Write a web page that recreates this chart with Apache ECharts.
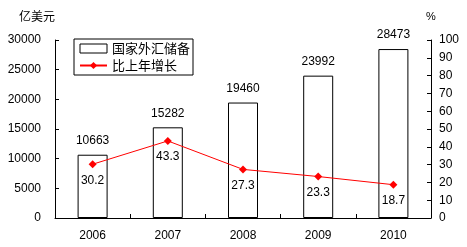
<!DOCTYPE html>
<html><head><meta charset="utf-8">
<script src="https://cdn.jsdelivr.net/npm/echarts@6/dist/echarts.min.js"></script>
<style>html,body{margin:0;padding:0;background:#fff}#c{width:467px;height:247px}</style>
</head><body><div id="c"></div>
<script>
const categories = ['2006','2007','2008','2009','2010'];
const reserves = [10663, 15282, 19460, 23992, 28473];
const growth = [30.2, 43.3, 27.3, 23.3, 18.7];
const leftTicks = [0, 5000, 10000, 15000, 20000, 25000, 30000];
const rightTicks = [0,10,20,30,40,50,60,70,80,90,100];

const font = 'Arial, "Liberation Sans", "Noto Sans CJK SC", sans-serif';
const txt = '#000';
const chart = echarts.init(document.getElementById('c'));
chart.setOption({
  animation: false,
  textStyle: {fontFamily: font, color: txt},
  grid: {left: 55, right: 36, top: 40, bottom: 29},
  legend: {
    left: 74, top: 39, orient: 'vertical', itemGap: 4,
    padding: [3, 3, 3, 5],
    borderColor: '#000', borderWidth: 1, borderRadius: 0,
    itemWidth: 27, itemHeight: 9,
    textStyle: {fontSize: 13, color: txt, fontFamily: '"Noto Sans CJK SC", sans-serif'},
    data: [
      {name: '国家外汇储备', icon: 'rect', itemStyle: {color: '#fff', borderColor: '#000', borderWidth: 1}},
      {name: '比上年增长'}
    ]
  },
  xAxis: {
    type: 'category', data: categories,
    axisLine: {lineStyle: {color: '#000', width: 1}},
    axisTick: {show: true, inside: true, length: 4, lineStyle: {color: '#000'}},
    axisLabel: {fontSize: 12, color: txt, margin: 12, fontFamily: font}
  },
  yAxis: [
    {
      type: 'value', min: leftTicks[0], max: leftTicks[leftTicks.length-1], interval: 5000,
      name: '亿美元', nameLocation: 'end', nameGap: 18,
      nameTextStyle: {fontSize: 12, color: txt, align: 'right', fontFamily: '"Noto Sans CJK SC", sans-serif'},
      axisLine: {show: true, lineStyle: {color: '#000'}},
      axisTick: {show: true, inside: true, length: 4, lineStyle: {color: '#000'}},
      axisLabel: {fontSize: 12, color: txt, margin: 14, fontFamily: font, formatter: v => String(v)},
      splitLine: {show: false}
    },
    {
      type: 'value', min: rightTicks[0], max: rightTicks[rightTicks.length-1], interval: 10,
      name: '%', nameLocation: 'end', nameGap: 18,
      nameTextStyle: {fontSize: 11, color: txt, align: 'center', fontFamily: font},
      axisLine: {show: true, lineStyle: {color: '#000'}},
      axisTick: {show: true, inside: true, length: 4, lineStyle: {color: '#000'}},
      axisLabel: {fontSize: 12, color: txt, margin: 8, fontFamily: font, formatter: v => String(v)},
      splitLine: {show: false}
    }
  ],
  series: [
    {
      name: '国家外汇储备', type: 'bar', data: reserves, barWidth: 30,
      itemStyle: {color: '#fff', borderColor: '#000', borderWidth: 1},
      label: {show: true, position: 'top', distance: 8, fontSize: 12, color: txt, fontFamily: font, formatter: p => String(p.value)}
    },
    {
      name: '比上年增长', type: 'line', yAxisIndex: 1, data: growth,
      symbol: 'diamond', symbolSize: 8,
      lineStyle: {color: '#ff0000', width: 1},
      itemStyle: {color: '#ff0000'},
      label: {show: true, position: 'bottom', distance: 6, fontSize: 12, color: txt, fontFamily: font}
    }
  ]
});
</script></body></html>
